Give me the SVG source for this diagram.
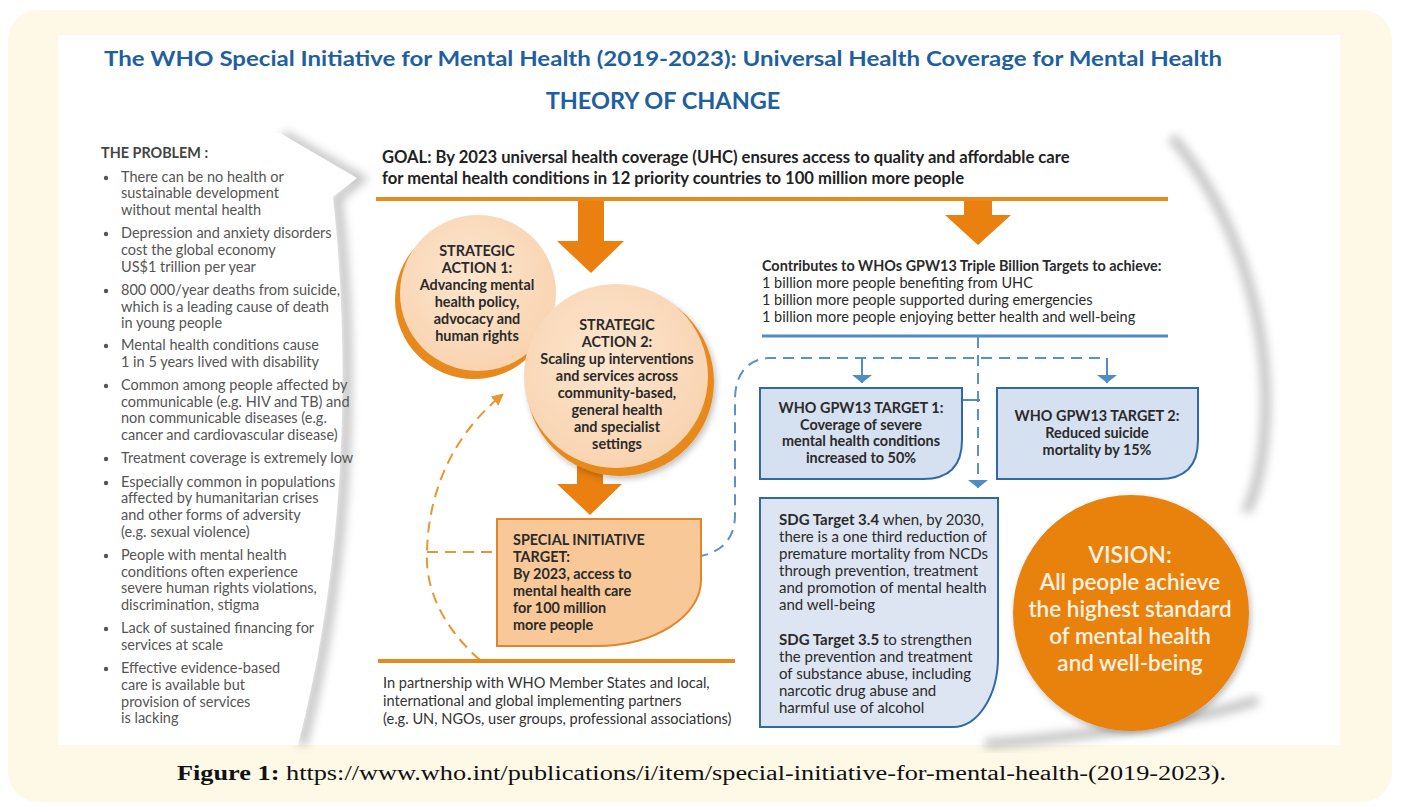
<svg xmlns="http://www.w3.org/2000/svg" width="1401" height="811" viewBox="0 0 1401 811">
<defs>
<style>
.t{font-family:Lato,"Open Sans","Liberation Sans",sans-serif}
.prob{font-family:Lato,"Liberation Sans",sans-serif;font-size:14.5px;fill:#555}
.bx{font-family:Lato,"Liberation Sans",sans-serif;font-size:14.4px;font-weight:700;fill:#2a2a2a}
.reg{font-family:Lato,"Liberation Sans",sans-serif;font-size:14.5px;fill:#2a2a2a}
.sdg{font-family:Lato,"Liberation Sans",sans-serif;font-size:15px;fill:#2a2a2a}
.dot{fill:#555}
.ol{stroke:#e8891e;stroke-width:4;fill:none}
.bl{stroke:#4f8cc6;stroke-width:3;fill:none}
.dashb{stroke:#5a92c8;stroke-width:2;fill:none;stroke-dasharray:11 7}
.dasho{stroke:#e8962e;stroke-width:2;fill:none;stroke-dasharray:11 7}
.arrow{fill:#e9800f}
.bbox{fill:#d5e0f1;stroke:#2f6aa6;stroke-width:2}
.shade{fill:none;stroke:#8a8a8a;stroke-width:10;opacity:0.5}
</style>
<filter id="blur" x="-20%" y="-20%" width="140%" height="140%"><feGaussianBlur stdDeviation="5"/></filter>
<filter id="ds" x="-20%" y="-20%" width="140%" height="140%"><feDropShadow dx="2" dy="3" stdDeviation="3" flood-color="#000" flood-opacity="0.25"/></filter>
<radialGradient id="peach" cx="45%" cy="40%" r="65%"><stop offset="0" stop-color="#fde6cf"/><stop offset="1" stop-color="#f8d2ae"/></radialGradient>
<marker id="ahO" viewBox="0 0 10 10" refX="8" refY="5" markerWidth="12" markerHeight="12" markerUnits="userSpaceOnUse" orient="auto"><path d="M0,0 L10,5 L0,10 z" fill="#e8962e" stroke="none"/></marker>
<marker id="ahB" viewBox="0 0 8 20" refX="8" refY="10" markerWidth="8" markerHeight="22" markerUnits="userSpaceOnUse" orient="auto"><path d="M0,0 L8,10 L0,20 z" fill="#4f8cc6" stroke="none"/></marker>
</defs>

<rect x="0" y="0" width="1401" height="811" fill="#ffffff"/>
<rect x="8" y="10" width="1384" height="792" rx="30" fill="#fef9e7"/>
<rect x="58" y="35" width="1282" height="710" fill="#ffffff"/>

<g id="shading">
<path d="M70,46 H1300" stroke="#e3e3e3" stroke-width="3" filter="url(#blur)" fill="none"/>
<path d="M370,138 H1160" stroke="#e6e6e6" stroke-width="4" filter="url(#blur)" fill="none"/>
<path class="shade" filter="url(#blur)" d="M283,135 L360,179 L337,198 C356,360 350,560 302,745"/>
<path class="shade" filter="url(#blur)" d="M1172,137 C1238,215 1274,330 1264,440 C1260,480 1252,500 1246,512"/>
<path class="shade" filter="url(#blur)" d="M985,744 C1080,737 1190,722 1258,700"/>
<path d="M280,133 L357,178 L333,197 C351,360 346,560 298,745 L58,745 L58,133 Z" fill="#ffffff"/>
</g>

<g id="title">
<text class="t" x="663" y="66" text-anchor="middle" font-size="21.5" font-weight="700" fill="#1f5f9f" textLength="1118" lengthAdjust="spacingAndGlyphs">The WHO Special Initiative for Mental Health (2019-2023): Universal Health Coverage for Mental Health</text>
<text class="t" x="663" y="109" text-anchor="middle" font-size="23.5" font-weight="700" fill="#1f5f9f">THEORY OF CHANGE</text>
</g>

<g id="problem">
<text class="t" x="101" y="158" font-size="14.4" font-weight="700" fill="#444">THE PROBLEM :</text>
<circle class="dot" cx="106" cy="178" r="2.2"/>
<text class="prob" x="121" y="182">There can be no health or</text>
<text class="prob" x="121" y="198">sustainable development</text>
<text class="prob" x="121" y="215">without mental health</text>
<circle class="dot" cx="106" cy="234" r="2.2"/>
<text class="prob" x="121" y="238">Depression and anxiety disorders</text>
<text class="prob" x="121" y="255">cost the global economy</text>
<text class="prob" x="121" y="272">US$1 trillion per year</text>
<circle class="dot" cx="106" cy="291" r="2.2"/>
<text class="prob" x="121" y="295">800 000/year deaths from suicide,</text>
<text class="prob" x="121" y="312">which is a leading cause of death</text>
<text class="prob" x="121" y="328">in young people</text>
<circle class="dot" cx="106" cy="346" r="2.2"/>
<text class="prob" x="121" y="350">Mental health conditions cause</text>
<text class="prob" x="121" y="367">1 in 5 years lived with disability</text>
<circle class="dot" cx="106" cy="386" r="2.2"/>
<text class="prob" x="121" y="390">Common among people affected by</text>
<text class="prob" x="121" y="407">communicable (e.g. HIV and TB) and</text>
<text class="prob" x="121" y="423">non communicable diseases (e.g.</text>
<text class="prob" x="121" y="440">cancer and cardiovascular disease)</text>
<circle class="dot" cx="106" cy="459" r="2.2"/>
<text class="prob" x="121" y="463">Treatment coverage is extremely low</text>
<circle class="dot" cx="106" cy="483" r="2.2"/>
<text class="prob" x="121" y="487">Especially common in populations</text>
<text class="prob" x="121" y="503">affected by humanitarian crises</text>
<text class="prob" x="121" y="520">and other forms of adversity</text>
<text class="prob" x="121" y="537">(e.g. sexual violence)</text>
<circle class="dot" cx="106" cy="556" r="2.2"/>
<text class="prob" x="121" y="560">People with mental health</text>
<text class="prob" x="121" y="577">conditions often experience</text>
<text class="prob" x="121" y="593">severe human rights violations,</text>
<text class="prob" x="121" y="610">discrimination, stigma</text>
<circle class="dot" cx="106" cy="629" r="2.2"/>
<text class="prob" x="121" y="633">Lack of sustained financing for</text>
<text class="prob" x="121" y="650">services at scale</text>
<circle class="dot" cx="106" cy="669" r="2.2"/>
<text class="prob" x="121" y="673">Effective evidence-based</text>
<text class="prob" x="121" y="690">care is available but</text>
<text class="prob" x="121" y="707">provision of services</text>
<text class="prob" x="121" y="723">is lacking</text>
</g>

<g id="goal">
<text class="t" x="382" y="163" font-size="16.6" font-weight="700" fill="#222">GOAL: By 2023 universal health coverage (UHC) ensures access to quality and affordable care</text>
<text class="t" x="382" y="184" font-size="16.6" font-weight="700" fill="#222">for mental health conditions in 12 priority countries to 100 million more people</text>
<line class="ol" x1="376" y1="199" x2="1168" y2="199"/>
</g>

<g id="connectors">
<polygon class="arrow" points="578,201 604,201 604,241 624,241 591,273 557,241 578,241"/>
<polygon class="arrow" points="964,201 992,201 992,215 1011,215 978,245 945,215 964,215"/>
<polygon class="arrow" points="577,455 603,455 603,484 622,484 590,515 557,484 577,484"/>
<path class="dasho" d="M480,660 C440,625 425,585 427,552 C428,500 447,440 502,395" marker-end="url(#ahO)"/>
<path class="dasho" d="M427,552 H497"/>
<line class="bl" x1="762" y1="336" x2="1168" y2="336"/>
<path class="dashb" d="M1100,358 H768 C746,360 735,375 735,400 V515 C735,540 720,552 701,556"/>
<path class="dashb" d="M978,337 V488" marker-end="url(#ahB)"/>
<path d="M862,358 V383" stroke="#4f8cc6" stroke-width="2" fill="none" marker-end="url(#ahB)"/>
<path d="M1107,358 V383" stroke="#4f8cc6" stroke-width="2" fill="none" marker-end="url(#ahB)"/>
<line x1="962" y1="400" x2="980" y2="400" stroke="#4f8cc6" stroke-width="2"/>
<line class="ol" x1="378" y1="661" x2="735" y2="661"/>
</g>

<g id="action1">
<circle cx="474" cy="300" r="79" fill="#e8891e"/>
<circle cx="478" cy="293" r="78" fill="url(#peach)"/>
<text class="bx" text-anchor="middle" x="477" y="256">STRATEGIC</text>
<text class="bx" text-anchor="middle" x="477" y="273">ACTION 1:</text>
<text class="bx" text-anchor="middle" x="477" y="290">Advancing mental</text>
<text class="bx" text-anchor="middle" x="477" y="307">health policy,</text>
<text class="bx" text-anchor="middle" x="477" y="324">advocacy and</text>
<text class="bx" text-anchor="middle" x="477" y="341">human rights</text>
</g>

<g id="action2">
<circle cx="620" cy="382" r="94" fill="#e8891e" filter="url(#ds)"/>
<circle cx="616" cy="376" r="92" fill="url(#peach)"/>
<text class="bx" text-anchor="middle" x="617" y="330">STRATEGIC</text>
<text class="bx" text-anchor="middle" x="617" y="347">ACTION 2:</text>
<text class="bx" text-anchor="middle" x="617" y="364">Scaling up interventions</text>
<text class="bx" text-anchor="middle" x="617" y="381">and services across</text>
<text class="bx" text-anchor="middle" x="617" y="398">community-based,</text>
<text class="bx" text-anchor="middle" x="617" y="415">general health</text>
<text class="bx" text-anchor="middle" x="617" y="432">and specialist</text>
<text class="bx" text-anchor="middle" x="617" y="449">settings</text>
</g>

<g id="si-target">
<path d="M497,519 H701 V580 A104,66 0 0 1 597,646 H497 Z" fill="#f9c899" stroke="#e0862a" stroke-width="2"/>
<text class="bx" x="513" y="545">SPECIAL INITIATIVE</text>
<text class="bx" x="513" y="562">TARGET:</text>
<text class="bx" x="513" y="579">By 2023, access to</text>
<text class="bx" x="513" y="596">mental health care</text>
<text class="bx" x="513" y="613">for 100 million</text>
<text class="bx" x="513" y="630">more people</text>
</g>

<g id="partners">
<text class="t" x="383" y="688" font-size="14.6" fill="#333">In partnership with WHO Member States and local,</text>
<text class="t" x="383" y="706" font-size="14.6" fill="#333">international and global implementing partners</text>
<text class="t" x="383" y="724" font-size="14.6" fill="#333">(e.g. UN, NGOs, user groups, professional associations)</text>
</g>

<g id="triple-billion">
<text class="bx" x="762" y="271">Contributes to WHOs GPW13 Triple Billion Targets to achieve:</text>
<text class="reg" x="762" y="288">1 billion more people benefiting from UHC</text>
<text class="reg" x="762" y="305">1 billion more people supported during emergencies</text>
<text class="reg" x="762" y="322">1 billion more people enjoying better health and well-being</text>
</g>

<g id="gpw-target1">
<path class="bbox" d="M760,388 H962 V440 Q962,479 923,479 H760 Z"/>
<text class="bx" text-anchor="middle" x="861" y="413">WHO GPW13 TARGET 1:</text>
<text class="bx" text-anchor="middle" x="861" y="430">Coverage of severe</text>
<text class="bx" text-anchor="middle" x="861" y="446">mental health conditions</text>
<text class="bx" text-anchor="middle" x="861" y="463">increased to 50%</text>
</g>

<g id="gpw-target2">
<path class="bbox" d="M997,388 H1198 V440 Q1198,479 1159,479 H997 Z"/>
<text class="bx" text-anchor="middle" x="1097" y="421">WHO GPW13 TARGET 2:</text>
<text class="bx" text-anchor="middle" x="1097" y="438">Reduced suicide</text>
<text class="bx" text-anchor="middle" x="1097" y="455">mortality by 15%</text>
</g>

<g id="sdg">
<path d="M760,498 H998 V657 A45,70 0 0 1 953,727 H760 Z" fill="#dde5f3" stroke="#2f6aa6" stroke-width="2"/>
<text class="sdg" x="779" y="525"><tspan font-weight="700">SDG Target 3.4</tspan> when, by 2030,</text>
<text class="sdg" x="779" y="542">there is a one third reduction of</text>
<text class="sdg" x="779" y="559">premature mortality from NCDs</text>
<text class="sdg" x="779" y="576">through prevention, treatment</text>
<text class="sdg" x="779" y="593">and promotion of mental health</text>
<text class="sdg" x="779" y="610">and well-being</text>
<text class="sdg" x="779" y="645"><tspan font-weight="700">SDG Target 3.5</tspan> to strengthen</text>
<text class="sdg" x="779" y="662">the prevention and treatment</text>
<text class="sdg" x="779" y="679">of substance abuse, including</text>
<text class="sdg" x="779" y="696">narcotic drug abuse and</text>
<text class="sdg" x="779" y="713">harmful use of alcohol</text>
</g>

<g id="vision">
<circle cx="1131" cy="613" r="118" fill="#e8820f" filter="url(#ds)"/>
<text class="t" text-anchor="middle" x="1130" y="563" font-size="23" font-weight="600" fill="#fdf1e2">VISION:</text>
<text class="t" text-anchor="middle" x="1130" y="590" font-size="22.5" font-weight="600" fill="#fdf1e2">All people achieve</text>
<text class="t" text-anchor="middle" x="1130" y="617" font-size="22.5" font-weight="600" fill="#fdf1e2">the highest standard</text>
<text class="t" text-anchor="middle" x="1130" y="644" font-size="22.5" font-weight="600" fill="#fdf1e2">of mental health</text>
<text class="t" text-anchor="middle" x="1130" y="671" font-size="22.5" font-weight="600" fill="#fdf1e2">and well-being</text>
</g>

<g id="caption">
<text x="177" y="780" font-family="'Liberation Serif',serif" font-size="20" fill="#111" textLength="1049" lengthAdjust="spacingAndGlyphs"><tspan font-weight="700">Figure 1:</tspan> https://www.who.int/publications/i/item/special-initiative-for-mental-health-(2019-2023).</text>
</g>
</svg>
